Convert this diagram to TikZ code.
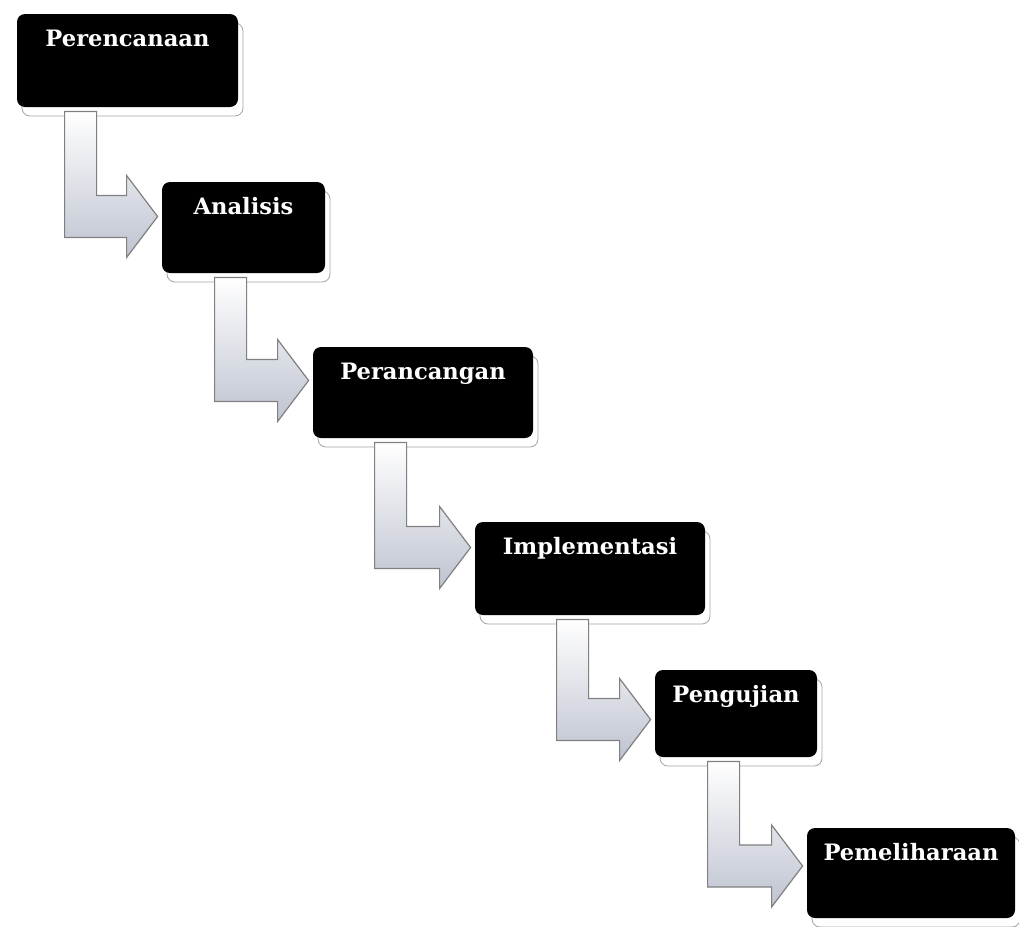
\documentclass[tikz,border=0pt]{standalone}
\usepackage{fontspec}
\setmainfont{DejaVu Serif}
\usetikzlibrary{positioning,shadows,calc}
\definecolor{flowgray}{RGB}{190,195,208}

\begin{document}
\begin{tikzpicture}[on grid,
   stage/.style={fill=black, rounded corners=4pt, text=white, inner sep=0pt,
      font=\bfseries\fontsize{11.3}{13}\selectfont, text height=16pt,
      drop shadow={shadow xshift=2.5pt, shadow yshift=-4.5pt, fill=white, draw=black!35, opacity=1}},
   flow/.style={draw=black!50, line width=0.6pt, top color=white, bottom color=flowgray}]
   \fill[white] (0,0) rectangle (509.5pt,-463.5pt);
   \useasboundingbox (0,0) rectangle (509.5pt,-463.5pt);
   \node[stage, minimum width=110.5pt, text depth=30.5pt] (plan) at (63.75pt,-30.25pt) {Perencanaan};
   \node[stage, minimum width=81.5pt, text depth=29.5pt] (analysis) [below right=83.5pt and 58pt of plan] {Analisis};
   \node[stage, minimum width=110pt, text depth=29.5pt] (design) [below right=82.5pt and 89.75pt of analysis] {Perancangan};
   \node[stage, minimum width=115pt, text depth=30.5pt] (build) [below right=88pt and 83.5pt of design] {Implementasi};
   \node[stage, minimum width=81pt, text depth=27.5pt] (test) [below right=72.5pt and 73pt of build] {Pengujian};
   \node[stage, minimum width=104pt, text depth=29pt] (care) [below right=79.75pt and 87.5pt of test] {Pemeliharaan};
   % bent block arrows between the stages
   \foreach \from/\to/\dx/\dy in {plan/analysis/24pt/5.5pt, analysis/design/26.5pt/6pt,
      design/build/31pt/10.5pt, build/test/41pt/-3pt, test/care/26.5pt/3.5pt}
      \path[flow] let \p1=(\from.south west), \p2=(\to.west) in
         (\x1+\dx, \y1-2pt) -- (\x1+\dx+16pt, \y1-2pt)
         -- (\x1+\dx+16pt, \y2+\dy+10.5pt) -- (\x2-17.5pt, \y2+\dy+10.5pt)
         -- (\x2-17.5pt, \y2+\dy+20.5pt) -- (\x2-2pt, \y2+\dy)
         -- (\x2-17.5pt, \y2+\dy-20.5pt) -- (\x2-17.5pt, \y2+\dy-10.5pt)
         -- (\x1+\dx, \y2+\dy-10.5pt) -- cycle;
\end{tikzpicture}
\end{document}
